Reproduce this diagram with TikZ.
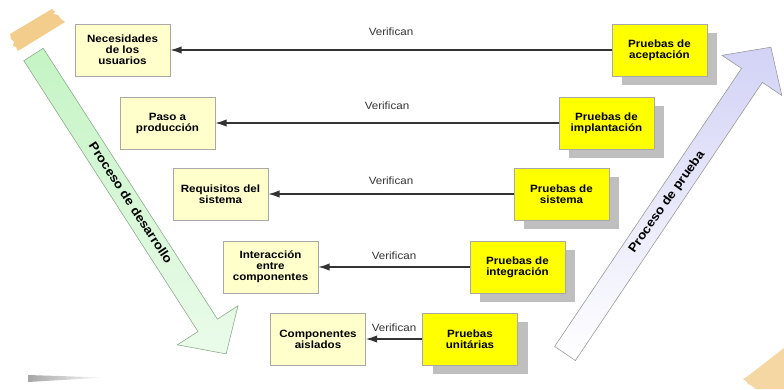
\documentclass[tikz,border=0pt]{standalone}
\usepackage{fontspec}
\setmainfont{Liberation Sans}[FakeStretch=1.1]
\usepackage{tikz}
\usetikzlibrary{arrows.meta,positioning,shadows}

\definecolor{reqfill}{HTML}{FFFFCC}
\definecolor{testfill}{HTML}{FFFF00}
\definecolor{boxline}{HTML}{A8A8A8}
\definecolor{tapecol}{HTML}{F2CD8C}
\definecolor{devgreen}{HTML}{C4F4C4}
\definecolor{testblue}{HTML}{D2D2F6}

\begin{document}
\begin{tikzpicture}[
    x=0.3mm, y=-0.3mm,
    reqbox/.style={rectangle, draw=boxline, fill=reqfill, minimum width=28.5mm, minimum height=15.6mm, align=center, font=\fontsize{9}{9.4}\selectfont\bfseries},
    testbox/.style={reqbox, fill=testfill, drop shadow={shadow xshift=3mm, shadow yshift=-2.8mm, fill=black!25, opacity=1}},
    verif/.style={-{Latex[length=3.4mm,width=2.2mm]}, line width=1.2pt, draw=black!80},
    lbl/.style={above=#1, text=black!80, font=\fontsize{9}{9}\selectfont},
    lbl/.default=1mm,
    procname/.style={font=\fontsize{10.5}{10.5}\selectfont\bfseries}
]
    \useasboundingbox (0,0) rectangle (784,389);

    % Decoration
    \fill[tapecol] (10,34) -- (52,9) -- (55,12) -- (53,14) -- (58,15) -- (61,19) -- (65,22) -- (18,51) -- (16,47) -- (13,46) -- (14,42) -- (11,39) -- cycle;
    \fill[tapecol!80] (743,379) -- (748,376) -- (784,348) -- (784,389) -- (756,389) -- (752,386) -- (748,384) -- (746,381) -- cycle;
    \shade[left color=gray!70, right color=white] (28,375) -- (105,377.5) -- (28,382) -- cycle;

    % Process arrows
    \shadedraw[top color=devgreen, bottom color=devgreen!35, draw=green!25!black!45, line width=0.5pt]
        (43.2,48.3) -- (217.4,319.1) -- (238,305.8) -- (226.1,353.9) -- (177.4,344.8) -- (198,331.5) -- (23.8,60.7) -- cycle;
    \shadedraw[top color=testblue, bottom color=white, draw=black!40, line width=0.5pt]
        (554.6,346.5) -- (741.5,68.4) -- (722,55.3) -- (770.9,47.2) -- (781.8,95.5) -- (762.3,82.4) -- (575.4,360.5) -- cycle;
    \node[procname, rotate=-56.8] (dev) at (131,203) {Proceso de desarrollo};
    \node[procname, rotate=54.6] (prueba) at (667,202) {Proceso de prueba};

    % Development side
    \node[reqbox] (nec) at (122.5,50) {Necesidades\\de los\\usuarios};
    \node[reqbox] (paso) at (167.5,123) {Paso a\\producción};
    \node[reqbox] (requis) at (220.5,194) {Requisitos del\\sistema};
    \node[reqbox] (inter) at (270.5,267) {Interacción\\entre\\componentes};
    \node[reqbox] (comp) at (318,339) {Componentes\\aislados};

    % Test side
    \node[testbox] (pacep) at (659.5,50) {Pruebas de\\aceptación};
    \node[testbox] (pimpl) at (606.5,123) {Pruebas de\\implantación};
    \node[testbox] (psis) at (561.5,194) {Pruebas de\\sistema};
    \node[testbox] (pinteg) at (517.5,267) {Pruebas de\\integración};
    \node[testbox] (punit) at (470,339) {Pruebas\\unitárias};

    % Arrows
    \draw[verif] (pacep) -- node[lbl=2.8mm] {Verifican} (nec);
    \draw[verif] (pimpl) -- node[lbl=2.7mm] {Verifican} (paso);
    \draw[verif] (psis) -- node[lbl=1.5mm] {Verifican} (requis);
    \draw[verif] (pinteg) -- node[lbl=0.7mm] {Verifican} (inter);
    \draw[verif] (punit) -- node[lbl=0.9mm] {Verifican} (comp);

\end{tikzpicture}
\end{document}
